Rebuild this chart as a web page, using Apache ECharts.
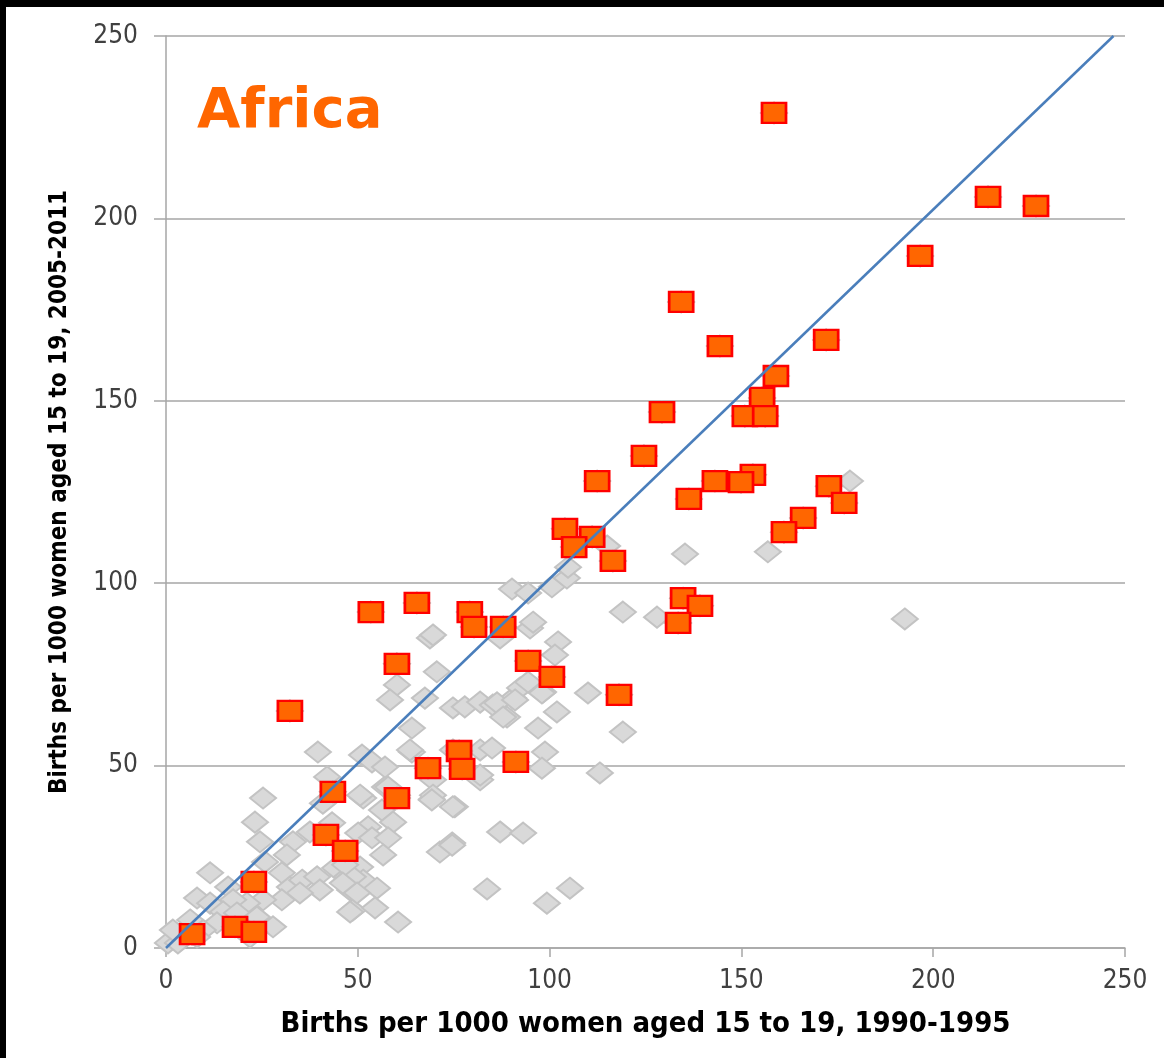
<!DOCTYPE html>
<html>
<head>
<meta charset="utf-8">
<script src="https://cdn.jsdelivr.net/npm/echarts@6/dist/echarts.min.js"></script>
<style>
  html, body { margin: 0; padding: 0; background: #fff; }
  #main { width: 1164px; height: 1058px; }
</style>
</head>
<body>
<div id="main"></div>
<script>
var axisTicks = [0, 50, 100, 150, 200, 250];

// [1990-1995, 2005-2011] for Africa
var africa = [
  [158.5, 228.9], [214.3, 205.9], [226.8, 203.4], [196.6, 189.7], [134.3, 177.1],
  [144.4, 165.0], [172.1, 166.7], [159.0, 156.8], [129.3, 146.9], [155.4, 150.8],
  [150.9, 145.8], [156.2, 145.8], [124.6, 134.9], [112.4, 128.0], [153.0, 129.7],
  [143.1, 128.0], [149.9, 127.7], [136.3, 123.1], [172.8, 126.6], [176.8, 122.0],
  [104.0, 114.9], [111.1, 112.7], [106.4, 109.9], [116.5, 106.1], [166.1, 117.9],
  [161.1, 114.0], [53.4, 92.1], [65.4, 94.6], [79.2, 92.1], [80.3, 88.0],
  [87.9, 88.0], [134.8, 95.9], [139.2, 93.8], [133.5, 89.1], [60.2, 77.9],
  [94.4, 78.7], [100.6, 74.3], [118.1, 69.4], [32.3, 65.0], [76.4, 54.0],
  [68.3, 49.3], [77.2, 49.1], [91.2, 51.0], [43.5, 42.8], [60.2, 41.1],
  [41.7, 31.0], [46.7, 26.6], [22.9, 18.1], [6.8, 3.8], [18.0, 5.8], [22.9, 4.4]
];

// other countries
var others = [
  [25.3, 41.1], [23.2, 34.5], [24.5, 29.1], [33.1, 29.1], [31.5, 25.5], [37.5, 31.8],
  [43.3, 34.3], [51.4, 41.1], [40.9, 39.7], [11.5, 20.6], [16.2, 16.7], [25.8, 23.6],
  [30.2, 20.6], [32.3, 16.7], [35.5, 18.6], [39.4, 19.5], [44.1, 21.9], [47.2, 19.5],
  [50.6, 22.2], [51.4, 18.6], [40.1, 15.9], [48.0, 15.9], [30.2, 13.2], [34.9, 15.1],
  [25.3, 13.2], [21.1, 12.3], [17.5, 13.2], [8.1, 13.7], [11.5, 12.3], [14.9, 9.9],
  [18.5, 9.6], [23.7, 8.5], [27.9, 5.8], [48.7, 10.4], [13.3, 6.9], [9.6, 4.9],
  [0.5, 1.4], [3.1, 1.4], [6.3, 7.7], [1.8, 4.9], [8.1, 3.0], [21.9, 3.0],
  [57.1, 44.1], [60.2, 41.9], [69.3, 40.8], [75.3, 38.7], [69.6, 46.1], [81.9, 46.1],
  [56.3, 37.8], [59.2, 34.5], [52.7, 33.2], [50.1, 31.5], [53.7, 30.2], [57.9, 30.2],
  [56.6, 25.5], [71.4, 26.3], [74.6, 28.8], [87.1, 31.8], [93.1, 31.5], [48.7, 19.5],
  [55.0, 16.4], [49.8, 15.1], [54.5, 11.0], [48.0, 9.9], [60.5, 7.1], [83.7, 16.2],
  [99.3, 12.3], [46.7, 22.8], [46.1, 17.8], [105.3, 16.4],
  [68.8, 85.0], [69.6, 85.8], [70.6, 75.7], [60.2, 72.1], [58.4, 68.0], [67.5, 68.5],
  [74.8, 65.8], [77.9, 66.1], [81.9, 67.4], [85.2, 66.6], [88.9, 63.3], [90.5, 68.5],
  [64.1, 60.3], [39.6, 53.7], [51.1, 52.9], [53.7, 51.0], [57.1, 49.6], [64.1, 53.7],
  [74.8, 54.3], [81.9, 54.3], [85.0, 54.8], [81.9, 47.4], [42.0, 46.9], [50.6, 41.9],
  [57.9, 44.1], [69.6, 41.9],
  [90.2, 98.4], [94.4, 97.3], [100.6, 99.0], [104.5, 101.4], [104.8, 104.4], [94.9, 87.7],
  [95.7, 89.3], [87.1, 85.0], [102.2, 83.9], [101.4, 80.3], [119.1, 92.1], [128.0, 90.7],
  [92.3, 71.3], [94.4, 72.9], [98.3, 70.2], [110.0, 69.9], [119.1, 59.2], [86.3, 67.2],
  [91.0, 68.0], [87.9, 63.3], [101.9, 64.7], [97.0, 60.3], [63.6, 54.3], [98.8, 53.7],
  [98.0, 49.3], [113.1, 48.0], [69.3, 40.6], [74.8, 38.7], [74.6, 28.2], [98.0, 69.9],
  [178.3, 128.0], [135.3, 108.0], [156.9, 108.6], [115.0, 110.2], [192.6, 90.2]
];

// equality line
var refLine = [[0, 0], [247, 250]];

var xTitle = 'Births per 1000 women aged 15 to 19, 1990-1995';
var yTitle = 'Births per 1000 women aged 15 to 19, 2005-2011';

var myChart = echarts.init(document.getElementById('main'));

var labelFont = "'DejaVu Sans Condensed', 'DejaVu Sans', sans-serif";

var option = {
  backgroundColor: '#fff',
  animation: false,
  title: {
    text: 'Africa',
    left: 197,
    top: 84,
    padding: 0,
    textStyle: {
      fontFamily: "'DejaVu Sans', sans-serif",
      fontWeight: 'bold',
      fontSize: 56,
      color: '#FF6600'
    }
  },
  graphic: [
    { type: 'rect', shape: { x: 0, y: 0, width: 1164, height: 7 }, style: { fill: '#000' } },
    { type: 'rect', shape: { x: 0, y: 0, width: 6, height: 1058 }, style: { fill: '#000' } }
  ],
  grid: {
    left: 166,
    right: 39,
    top: 36,
    bottom: 110
  },
  xAxis: {
    type: 'value',
    min: axisTicks[0],
    max: axisTicks[axisTicks.length - 1],
    interval: 50,
    name: xTitle,
    nameLocation: 'middle',
    nameGap: 62,
    nameTextStyle: {
      fontFamily: labelFont,
      fontWeight: 'bold',
      fontSize: 29,
      color: '#000'
    },
    axisLine: { show: true, lineStyle: { color: '#A6A6A6', width: 1.5 } },
    axisTick: { show: true, length: 9, lineStyle: { color: '#A6A6A6', width: 1.5 } },
    axisLabel: { margin: 20, fontFamily: labelFont, fontSize: 26, color: '#404040' },
    splitLine: { show: false }
  },
  yAxis: {
    type: 'value',
    min: axisTicks[0],
    max: axisTicks[axisTicks.length - 1],
    interval: 50,
    name: yTitle,
    nameLocation: 'middle',
    nameGap: 94,
    nameTextStyle: {
      fontFamily: labelFont,
      fontWeight: 'bold',
      fontSize: 24,
      color: '#000'
    },
    axisLine: { show: true, lineStyle: { color: '#A6A6A6', width: 1.5 } },
    axisTick: { show: true, length: 12, lineStyle: { color: '#A6A6A6', width: 1.5 } },
    axisLabel: { margin: 28, fontFamily: labelFont, fontSize: 26, color: '#404040' },
    splitLine: { show: true, lineStyle: { color: '#A6A6A6', width: 1.5 } }
  },
  series: [
    {
      name: 'Others',
      type: 'scatter',
      symbol: 'diamond',
      symbolSize: [26, 21],
      itemStyle: { color: '#D9D9D9', borderColor: '#C3C3C3', borderWidth: 2, opacity: 1 },
      data: others.concat(africa)
    },
    {
      name: 'Equality',
      type: 'line',
      data: refLine,
      symbol: 'none',
      lineStyle: { color: '#4A7EBB', width: 2.5 }
    },
    {
      name: 'Africa',
      type: 'scatter',
      symbol: 'rect',
      symbolSize: [24, 20],
      itemStyle: { color: '#FF6600', borderColor: '#FF0000', borderWidth: 2.5, opacity: 1 },
      data: africa
    }
  ]
};

myChart.setOption(option);
</script>
</body>
</html>
